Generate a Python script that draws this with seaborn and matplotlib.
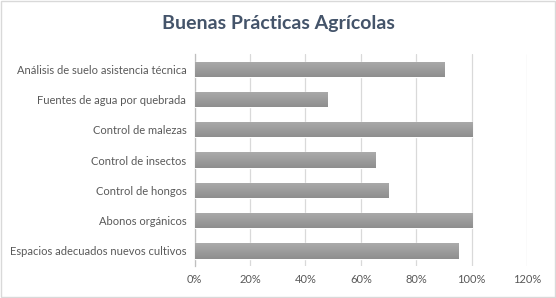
import matplotlib
matplotlib.use("Agg")
import matplotlib.pyplot as plt
import seaborn as sns
import numpy as np
import pandas as pd
from matplotlib.ticker import FuncFormatter, MultipleLocator
from matplotlib.patches import Rectangle

categories = [
    "Análisis de suelo asistencia técnica",
    "Fuentes de agua por quebrada",
    "Control de malezas",
    "Control de insectos",
    "Control de hongos",
    "Abonos orgánicos",
    "Espacios adecuados nuevos cultivos",
]
values = [0.90, 0.48, 1.00, 0.65, 0.70, 1.00, 0.95]
title = "Buenas Prácticas Agrícolas"

df = pd.DataFrame({"cat": categories, "val": values})

sns.set_style("white")
plt.rcParams["font.family"] = ["Lato", "DejaVu Sans"]

fig = plt.figure(figsize=(5.56, 2.98), dpi=100)
ax = fig.add_axes([0.350, 0.107, 0.598, 0.712])

sns.barplot(data=df, x="val", y="cat", color="#9E9E9E", width=0.5, ax=ax,
            saturation=1, zorder=3)

# vertical gradient on bars
grad = np.linspace(0, 1, 64).reshape(-1, 1)
from matplotlib.colors import LinearSegmentedColormap
cmap = LinearSegmentedColormap.from_list("g", ["#ABABAB", "#8E8E8E"])
for p in ax.patches:
    x0, y0 = p.get_x(), p.get_y()
    w, h = p.get_width(), p.get_height()
    im = ax.imshow(grad, cmap=cmap, aspect="auto",
                   extent=(x0, x0 + w, y0 + h, y0), zorder=4)
    im.set_clip_path(p)

ax.set_xlim(0, 1.2)
ax.set_ylim(6.5, -0.5)
ax.xaxis.set_major_locator(MultipleLocator(0.2))
ax.xaxis.set_major_formatter(FuncFormatter(lambda v, _: f"{v*100:.0f}%"))
ax.grid(axis="x", color="#D9D9D9", linewidth=0.9, zorder=0)
ax.set_xlabel("")
ax.set_ylabel("")
for s in ["top", "right", "bottom"]:
    ax.spines[s].set_visible(False)
ax.spines["left"].set_color("#BFBFBF")
ax.spines["left"].set_linewidth(0.9)
ax.tick_params(axis="both", length=0, labelsize=8, colors="#595959", pad=6)

fig.text(0.5, 0.92, title, ha="center", va="center", fontsize=14,
         fontweight="bold", color="#44546A")

fig.patches.append(Rectangle((0.001, 0.002), 0.997, 0.995, transform=fig.transFigure,
                             fill=False, edgecolor="#D9D9D9", linewidth=1))

fig.savefig("out.png", dpi=100)
